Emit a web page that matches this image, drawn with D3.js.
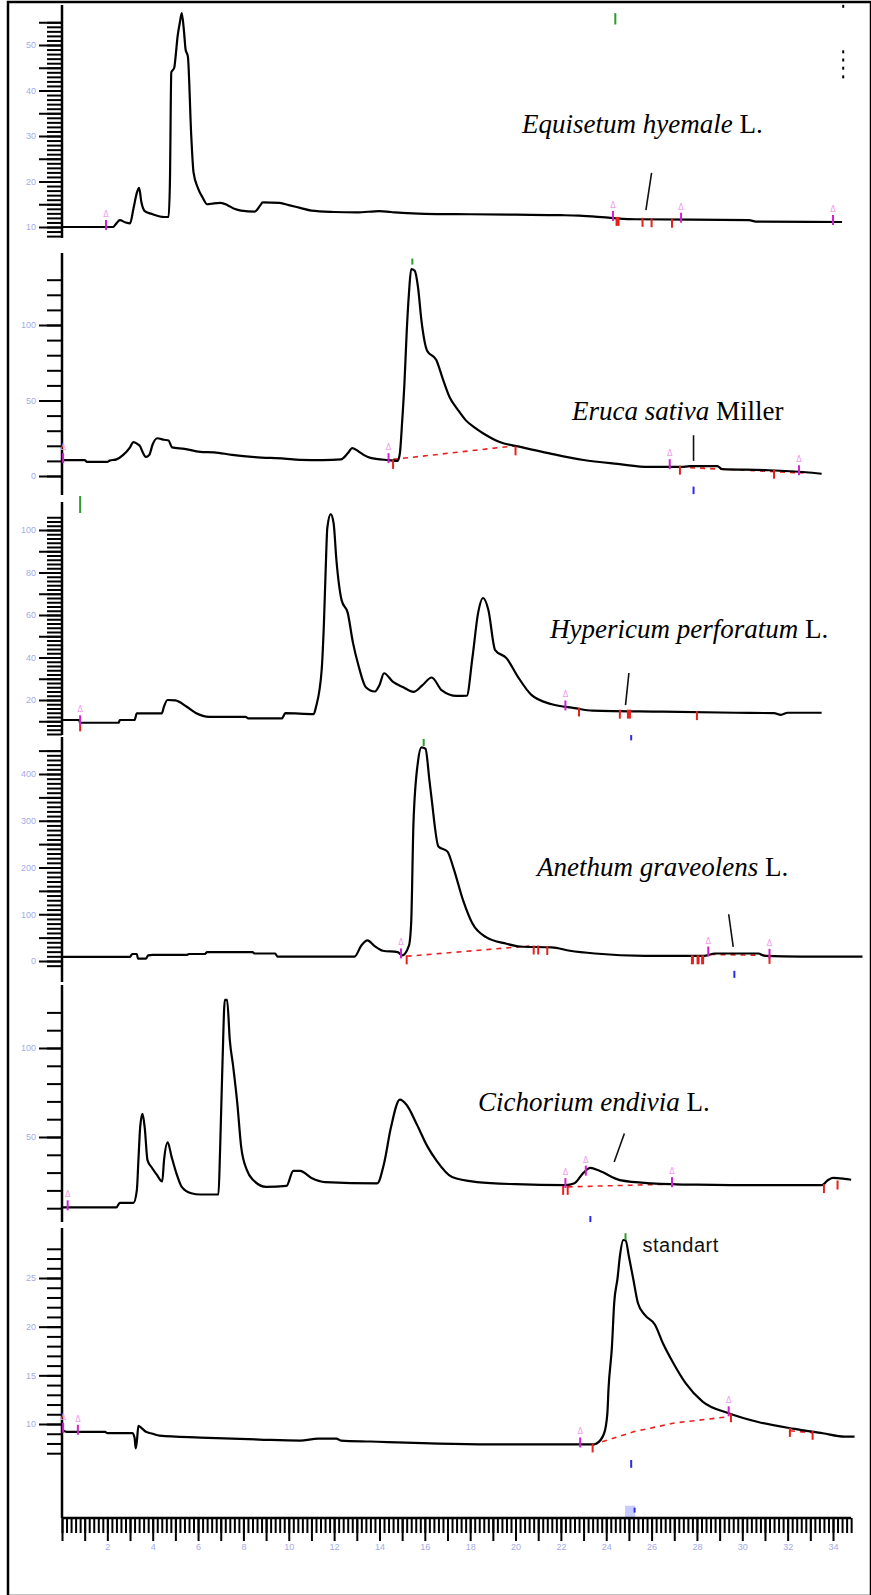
<!DOCTYPE html>
<html>
<head>
<meta charset="utf-8">
<title>Chromatograms</title>
<script src="https://d3js.org/d3.v7.min.js"></script>
<style>
  body { margin: 0; background: #fff; }
  .tick text { font-family: "Liberation Sans", Arial, sans-serif; font-size: 9px; fill: #a3abe6; }
  .tick line { stroke: #000; stroke-width: 2px; }
</style>
</head>
<body>
<div id="chart"></div>
<script>
// ---- data: [time (min), signal] ----
var trace1 = [[0,10],[1.9,10],[2.25,10],[2.4,10.8],[2.55,11.5],[2.8,11],[3.0,10.8],[3.15,14],[3.3,17.5],[3.4,18.6],[3.5,15.5],[3.65,13.5],[4.0,12.8],[4.5,12.2],[4.7,12.2],[4.76,20],[4.82,44],[4.95,45],[5.0,47],[5.1,52],[5.2,55],[5.28,57],[5.38,53],[5.45,49],[5.55,47.5],[5.7,30],[5.8,22],[6.0,18.5],[6.2,16.5],[6.4,15],[6.7,15.2],[7.0,15.3],[7.3,14.8],[7.6,14],[7.9,13.6],[8.5,13.4],[8.75,14.8],[8.85,15.4],[9.6,15.3],[10.0,14.8],[10.5,14.2],[11,13.6],[12,13.3],[13,13.2],[14,13.5],[14.5,13.3],[15,13.1],[16,12.9],[18,12.8],[20,12.7],[22,12.6],[22.8,12.5],[24.2,12],[25.3,11.7],[30.3,11.5],[30.6,11.2],[34.4,11.1]];
var trace2 = [[0,10.5],[1.0,10.5],[1.1,9.3],[2.0,9.3],[2.1,10.2],[2.4,11],[2.7,14],[3.0,19],[3.15,22.5],[3.35,21],[3.45,19.5],[3.55,16],[3.7,12.6],[3.85,14],[4.0,21],[4.2,25],[4.5,24],[4.7,23.5],[4.85,19],[5.4,18],[6.1,16],[6.7,15.7],[7.5,14],[8.5,12.5],[9.8,11.5],[10.5,10.7],[11.5,10.5],[12.3,11],[12.6,15],[12.8,18.5],[13.1,16],[13.3,14],[13.6,12],[14.4,10.5],[14.8,10],[14.9,15],[15.0,36],[15.1,61],[15.2,95],[15.3,121],[15.4,137],[15.55,136],[15.7,125],[15.85,103],[16.1,83],[16.5,77],[16.8,64],[17.1,52],[17.45,44],[17.8,37],[18.2,32],[18.6,28],[19.3,22.5],[20.3,19],[21.5,15],[23.0,10.6],[24.5,8],[25.9,6],[27.3,6],[27.7,6.5],[28.9,6.5],[29.1,4.6],[31,3.9],[32.8,2.5],[33.5,1.5]];
var trace3 = [[0,10.6],[0.75,10.6],[0.8,9.3],[2.5,9.3],[2.55,10.6],[3.2,10.6],[3.3,13.7],[4.4,13.7],[4.5,17],[4.65,20],[5.0,19.8],[5.5,16.8],[5.9,13.9],[6.5,12.1],[8.1,12.1],[8.2,11.4],[9.7,11.4],[9.85,13.8],[11.1,13.4],[11.2,16.7],[11.45,34],[11.55,56],[11.63,82],[11.7,101],[11.85,107.5],[11.98,103],[12.1,86],[12.33,67],[12.6,61],[12.83,47],[13.08,36],[13.4,26],[13.8,24],[14.0,27],[14.2,32.6],[14.6,28.5],[15.05,26],[15.5,23.8],[15.9,27],[16.3,30.6],[16.75,24.5],[17.4,21.9],[17.85,22],[18.1,40],[18.35,61],[18.57,68],[18.8,62.5],[19.1,43.5],[19.6,39.7],[20.1,31],[20.7,22.4],[21.6,18],[22.6,16.2],[23.4,15],[26.5,14.5],[29.7,14],[31.4,13.8],[31.7,13],[32,14],[33.5,14]];
var trace4 = [[0,9],[3.0,9],[3.1,15],[3.3,15],[3.35,5],[3.7,5],[3.8,12],[4.0,13],[5.5,13],[5.6,15],[6.3,15],[6.4,19],[8.4,19],[8.5,16],[9.4,16],[9.5,9.5],[12.9,9.5],[13.2,33],[13.47,44],[13.76,33],[14.15,22],[14.8,19],[15.0,12],[15.3,33],[15.4,84],[15.5,296],[15.7,427],[15.85,457],[16.03,454],[16.2,388],[16.3,347],[16.6,245],[17.0,234],[17.25,201],[17.7,128],[18.1,80],[18.7,51],[19.6,37],[20.2,31],[21.6,29],[22.4,22],[23.5,16],[25.7,11],[28.3,11],[28.8,16],[30.7,16],[31.0,11],[32.6,9.5],[35.3,9.5]];
var trace5 = [[0,10.5],[2.4,10.5],[2.55,13],[3.15,13],[3.3,20],[3.37,37],[3.45,56],[3.55,63],[3.65,55],[3.77,37],[3.95,33],[4.17,29],[4.42,25],[4.5,37],[4.66,47],[4.83,39],[5.06,29],[5.28,22],[5.7,18.4],[6.1,17.7],[6.9,17.7],[6.97,42],[7.08,93],[7.18,127],[7.28,127],[7.4,104.5],[7.55,89.5],[7.73,69],[7.9,44.6],[8.15,31.5],[8.43,25.8],[9.0,22],[9.9,22.5],[10.2,31],[10.5,31],[11.0,27],[11.6,24.7],[13.9,24],[14.2,35],[14.5,55],[14.9,71],[15.2,68],[15.65,57],[16.1,45],[16.5,37],[17.2,27.5],[18.3,24.7],[20,23.5],[22.2,23],[22.6,24],[23.0,30],[23.3,32.6],[23.7,31],[24.6,25.8],[26,24],[28,23.2],[30,23],[33.5,23],[33.8,26],[34.0,27],[34.5,26.5],[34.8,26]];
var trace6 = [[0,9.4],[0.2,9.2],[1.9,9.2],[2.0,9.06],[3.1,9.06],[3.2,8.6],[3.25,7.5],[3.3,8.2],[3.37,9.8],[3.5,9.6],[3.7,9.2],[4.0,9.0],[4.3,8.8],[6.1,8.6],[8.7,8.4],[10.5,8.3],[11.3,8.5],[12.1,8.5],[12.3,8.3],[13.6,8.2],[19.3,7.9],[23.4,7.9],[23.57,8.0],[23.9,9],[24.05,11.1],[24.1,13.6],[24.25,17.9],[24.35,22.4],[24.5,25],[24.6,27.2],[24.75,28.9],[24.85,28.9],[25.0,27.2],[25.2,24.8],[25.4,22.4],[25.7,21.2],[26.15,20.2],[26.5,18.3],[26.95,16.3],[27.5,14.2],[28.25,12.3],[29.4,11.1],[30.7,10.2],[32.3,9.5],[33.55,9.05],[34.5,8.7],[34.95,8.7]];

// integration marks: [time, signal]
var magenta1 = [[1.94,10],[24.3,12],[27.3,11.6],[34.0,11.1]];
var magenta2 = [[0.05,10.5],[14.4,10.5],[26.8,6.5],[32.5,2.5]];
var magenta3 = [[0.8,9.5],[22.2,16.5]];
var magenta4 = [[14.95,12],[28.5,16],[31.2,11]];
var magenta5 = [[0.25,10.5],[22.2,23],[23.1,30],[26.9,23.5]];
var magenta6 = [[0.05,9.4],[0.7,9.2],[22.85,7.9],[29.4,11.1]];

var red1 = [[24.5,12,4],[25.6,11.8,2],[26.0,11.7,2],[26.9,11.6,2]];
var red2 = [[14.6,10,2],[20.0,19,2],[27.25,6.2,2],[31.4,3.5,2]];
var red3 = [[0.8,9,2],[22.8,16,2],[24.6,15,2],[25.0,15,4],[28.0,14.3,2]];
var red4 = [[15.2,10,2],[20.8,31,2],[21.0,31,2],[21.4,30,2],[27.8,10,3],[28.05,10,3],[28.25,10,3],[31.2,11,2]];
var red5 = [[22.1,22,2],[22.3,22,2],[33.6,23,2],[34.2,25,2]];
var red6 = [[23.4,7.9,2],[29.5,11,2],[32.1,9.5,2],[33.1,9.2,2]];

var dashed2 = [[[14.6,11],[20.0,20]],[[27.7,5.5],[32.7,2]]];
var dashed4 = [[[15.2,10],[20.6,32]],[[28.6,14],[31.2,12]]];
var dashed5 = [[[22.3,22],[26.9,23.5]]];
var dashed6 = [[[23.4,7.85],[25.2,9.2],[27.0,10.1],[29.4,10.75]],[[32.1,9.3],[33.1,9.1]]];

var annot1 = [[25.75,13.7],[25.85,17],[26.0,21.9]];
var annot2 = [[27.85,27],[27.85,10]];
var annot3 = [[25.0,32.7],[24.85,17.6]];
var annot4 = [[29.4,100],[29.6,30]];
var annot5 = [[24.35,36],[24.8,52]];
var annot6 = [[24.9,27.8],[25.3,28.5]];

var green1 = [[24.4,54.5,57]];
var green2 = [[15.45,140,144]];
var green3 = [[0.8,108,116]];
var green4 = [[15.95,460,475]];
var green6 = [[24.85,28.9,29.6]];

var blue2 = [[27.85,-7,-12]];
var blue3 = [[25.1,3.5,1]];
var blue4 = [[29.65,-21,-36]];
var blue5 = [[23.3,5.6,2.2]];
var blue6 = [[25.1,6.3,5.5]];

var species = ["Equisetum hyemale", "Eruca sativa", "Hypericum perforatum", "Anethum graveolens", "Cichorium endivia"];
var authors = ["L.", "Miller", "L.", "L.", "L."];

var yLabels1 = [10,20,30,40,50];
var yLabels2 = [0,50,100];
var yLabels3 = [20,40,60,80,100];
var yLabels4 = [0,100,200,300,400];
var yLabels5 = [50,100];
var yLabels6 = [10,15,20,25];
var xLabels = [2,4,6,8,10,12,14,16,18,20,22,24,26,28,30,32,34];

// ---- layout ----
var width = 871, height = 1595, axisX = 62;

var svg = d3.select("#chart").append("svg")
    .attr("width", width)
    .attr("height", height);

svg.append("rect")
    .attr("x", 8).attr("y", 2)
    .attr("width", 863).attr("height", 1594)
    .attr("fill", "none").attr("stroke", "#000").attr("stroke-width", 2.5);

var x = d3.scaleLinear().domain([0, 34]).range([62, 833]);

var panels = [
  {trace: trace1, dom: [10,50], rng: [227,45], axis: [5,238], minor: d3.range(8,56,1), major: d3.range(10,56,5), labels: yLabels1,
   magenta: magenta1, red: red1, dashed: [], annot: annot1, green: green1, blue: []},
  {trace: trace2, dom: [0,100], rng: [476,325], axis: [253,495], minor: d3.range(0,131,10), major: [0,50,100], labels: yLabels2,
   magenta: magenta2, red: red2, dashed: dashed2, annot: annot2, green: green2, blue: blue2},
  {trace: trace3, dom: [20,100], rng: [700,530], axis: [502,735], minor: d3.range(4,107,2), major: d3.range(10,101,10), labels: yLabels3,
   magenta: magenta3, red: red3, dashed: [], annot: annot3, green: green3, blue: blue3},
  {trace: trace4, dom: [0,400], rng: [961,774], axis: [737,982], minor: d3.range(-10,451,10), major: d3.range(0,451,50), labels: yLabels4,
   magenta: magenta4, red: red4, dashed: dashed4, annot: annot4, green: green4, blue: blue4},
  {trace: trace5, dom: [50,100], rng: [1137,1048], axis: [985,1222], minor: d3.range(10,121,10), major: [50,100], labels: yLabels5,
   magenta: magenta5, red: red5, dashed: dashed5, annot: annot5, green: [], blue: blue5},
  {trace: trace6, dom: [10,25], rng: [1424,1278], axis: [1228,1518], minor: d3.range(7,29,1), major: [10,15,20,25], labels: yLabels6,
   magenta: magenta6, red: red6, dashed: dashed6, annot: [], green: green6, blue: blue6}
];

var titleX = [522, 572, 550, 537, 478],
    titleY = [133, 420, 638, 876, 1111];

panels.forEach(function(p, i) {
  var y = d3.scaleLinear().domain(p.dom).range(p.rng);
  var g = svg.append("g");

  // minor ticks
  g.append("g")
      .attr("transform", "translate(" + axisX + ",0)")
      .call(d3.axisLeft(y).tickValues(p.minor).tickSize(15).tickFormat(""))
      .select(".domain").remove();
  // long ticks with labels
  g.append("g")
      .attr("transform", "translate(" + axisX + ",0)")
      .call(d3.axisLeft(y).tickValues(p.major).tickSize(23).tickPadding(3)
        .tickFormat(function(d) { return p.labels.indexOf(d) >= 0 ? d : ""; }))
      .select(".domain").remove();

  g.append("line")
      .attr("x1", axisX).attr("x2", axisX)
      .attr("y1", p.axis[0]).attr("y2", p.axis[1])
      .attr("stroke", "#000").attr("stroke-width", 2.5);

  var line = d3.line().x(function(d) { return x(d[0]); }).y(function(d) { return y(d[1]); });
  var smooth = d3.line().curve(d3.curveMonotoneX)
      .x(function(d) { return x(d[0]); }).y(function(d) { return y(d[1]); });

  // red dashed baselines
  p.dashed.forEach(function(seg) {
    g.append("path").datum(seg)
        .attr("d", line)
        .attr("fill", "none").attr("stroke", "#e8201c")
        .attr("stroke-width", 1.6).attr("stroke-dasharray", "5,5");
  });

  // trace
  g.append("path").datum(p.trace)
      .attr("d", smooth)
      .attr("fill", "none")
      .attr("stroke", "#000")
      .attr("stroke-width", 2.2);

  // red integration ticks
  g.selectAll(".red").data(p.red).enter().append("line")
      .attr("x1", function(d) { return x(d[0]); }).attr("x2", function(d) { return x(d[0]); })
      .attr("y1", function(d) { return y(d[1]) - 1; }).attr("y2", function(d) { return y(d[1]) + 8; })
      .attr("stroke", "#e8201c").attr("stroke-width", function(d) { return d[2]; });

  // magenta peak-start marks with faint labels
  g.selectAll(".mag").data(p.magenta).enter().append("line")
      .attr("x1", function(d) { return x(d[0]); }).attr("x2", function(d) { return x(d[0]); })
      .attr("y1", function(d) { return y(d[1]) - 7; }).attr("y2", function(d) { return y(d[1]) + 3; })
      .attr("stroke", "#d21fd2").attr("stroke-width", 2);
  g.selectAll(".magl").data(p.magenta).enter().append("text")
      .attr("x", function(d) { return x(d[0]); })
      .attr("y", function(d) { return y(d[1]) - 10; })
      .attr("text-anchor", "middle")
      .style("font-family", "DejaVu Sans, sans-serif").style("font-size", "8px")
      .attr("fill", "#f29ced")
      .text("\u0394");

  // green apex marks
  g.selectAll(".grn").data(p.green).enter().append("line")
      .attr("x1", function(d) { return x(d[0]); }).attr("x2", function(d) { return x(d[0]); })
      .attr("y1", function(d) { return y(d[1]); }).attr("y2", function(d) { return y(d[2]); })
      .attr("stroke", "#2f9a2f").attr("stroke-width", 2);

  // blue marks
  g.selectAll(".blu").data(p.blue).enter().append("line")
      .attr("x1", function(d) { return x(d[0]); }).attr("x2", function(d) { return x(d[0]); })
      .attr("y1", function(d) { return y(d[1]); }).attr("y2", function(d) { return y(d[2]); })
      .attr("stroke", "#2b2bea").attr("stroke-width", 2);

  // annotation pointer
  if (p.annot.length) {
    g.append("path").datum(p.annot)
        .attr("d", line)
        .attr("fill", "none").attr("stroke", "#111").attr("stroke-width", 1.6);
  }

  if (i === 0) {
    var dots1 = [[34.45,58.5],[34.45,48.5],[34.45,46.7],[34.45,44.9],[34.45,43]];
    g.selectAll(".dot").data(dots1).enter().append("rect")
        .attr("x", function(d) { return x(d[0]) - 1; })
        .attr("y", function(d) { return y(d[1]) - 1.5; })
        .attr("width", 2).attr("height", 3).attr("fill", "#000");
  }

  if (i === 5) {
    // small blue box under the standard peak
    g.append("rect")
        .attr("x", x(25.05) - 5).attr("y", y(1.6))
        .attr("width", 10).attr("height", y(0.2) - y(1.6))
        .attr("fill", "#c6ccff");
    g.append("line")
        .attr("x1", x(25.25)).attr("x2", x(25.25))
        .attr("y1", y(1.4)).attr("y2", y(0.9))
        .attr("stroke", "#2b2bea").attr("stroke-width", 2);
    g.append("text")
        .attr("x", x(25.6)).attr("y", y(27.7))
        .style("font-family", "Liberation Sans, Arial, sans-serif")
        .style("font-size", "20px")
        .style("letter-spacing", "0.5px")
        .attr("fill", "#111")
        .text("standart");
  }

  if (i < 5) {
    var t = svg.append("text")
        .attr("x", titleX[i]).attr("y", titleY[i])
        .style("font-family", "Liberation Serif, 'Times New Roman', serif")
        .style("font-size", "27px")
        .attr("fill", "#000");
    t.append("tspan").style("font-style", "italic").text(species[i]);
    t.append("tspan").text(" " + authors[i]);
  }
});

// ---- shared time axis ----
var xg = svg.append("g").attr("transform", "translate(0,1518)");
xg.append("g")
    .call(d3.axisBottom(x).tickValues(d3.range(0, 175).map(function(k) { return k * 0.2; })).tickSize(15).tickFormat(""))
    .select(".domain").remove();
xg.append("g")
    .call(d3.axisBottom(x).tickValues(d3.range(0, 35, 1)).tickSize(23).tickPadding(3)
      .tickFormat(function(d) { return xLabels.indexOf(d) >= 0 ? d : ""; }))
    .select(".domain").remove();
xg.append("line")
    .attr("x1", x(0)).attr("x2", x(34.8))
    .attr("stroke", "#000").attr("stroke-width", 2.5);
</script>
</body>
</html>
